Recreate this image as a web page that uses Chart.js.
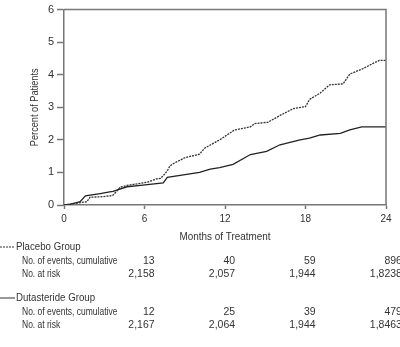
<!DOCTYPE html>
<html lang="en">
<head>
<meta charset="UTF-8">
<title>Percent of Patients by Months of Treatment</title>
<script src="https://cdn.jsdelivr.net/npm/chart.js"></script>
<style>
  body { margin: 0; background: #fff; }
  #wrap { width: 400px; height: 347px; }
</style>
</head>
<body>
<div id="wrap"><canvas id="chart" width="400" height="347"></canvas></div>
<script>
// curve values (months, percent)
const placeboMonths = [0, 1.0, 1.7, 1.95, 2.7, 3.4, 3.65, 4.2, 4.7, 6.2, 6.9, 7.2, 7.4, 7.7, 7.9, 8.1, 9.0, 10.1, 10.5, 11.6, 12.7, 13.9, 14.2, 15.2, 16.1, 17.1, 18.0, 18.3, 19.1, 19.8, 20.8, 21.3, 22.3, 23.0, 23.5, 24];
const placeboPct    = [0, 0.06, 0.1, 0.24, 0.25, 0.28, 0.3, 0.55, 0.6, 0.7, 0.8, 0.82, 0.9, 1.05, 1.2, 1.26, 1.45, 1.56, 1.75, 2.0, 2.3, 2.4, 2.5, 2.54, 2.75, 2.96, 3.02, 3.24, 3.44, 3.69, 3.72, 4.02, 4.19, 4.34, 4.44, 4.44];

const dutaMonths = [0, 0.5, 1.2, 1.6, 2.7, 3.4, 3.65, 4.7, 5.7, 7.4, 7.7, 10.1, 10.9, 11.6, 12.6, 13.9, 15.1, 16.1, 17.6, 18.3, 19.1, 20.6, 21.3, 22.2, 24];
const dutaPct    = [0, 0.03, 0.1, 0.28, 0.35, 0.4, 0.42, 0.56, 0.6, 0.68, 0.85, 1.0, 1.1, 1.15, 1.25, 1.55, 1.65, 1.85, 2.0, 2.05, 2.15, 2.2, 2.31, 2.4, 2.4];

// table under the chart (last column has a footnote mark after the number)
const tableMonths = [6, 12, 18, 24];
const placeboEvents = ["13", "40", "59", "89"];
const placeboAtRisk = ["2,158", "2,057", "1,944", "1,823"];
const dutaEvents = ["12", "25", "39", "47"];
const dutaAtRisk = ["2,167", "2,064", "1,944", "1,846"];
const placeboNotes = ["6", "8"];
const dutaNotes = ["9", "3"];

const fontFam = "'Liberation Sans', Arial, sans-serif";
const txt = "#333";

// text squeezed horizontally, like the condensed face of the original
function squeezed(ctx, s, x, y, align, sx) {
  const w = ctx.measureText(s).width * sx;
  let left = x;
  if (align === "right") left = x - w;
  if (align === "center") left = x - w / 2;
  ctx.save();
  ctx.textAlign = "left";
  ctx.translate(left, y);
  ctx.scale(sx, 1);
  ctx.fillText(s, 0, 0);
  ctx.restore();
}

// extra drawing: box, titles, risk table
const extras = {
  id: "extras",
  afterDraw(chart) {
    const ctx = chart.ctx;
    const a = chart.chartArea;
    const xs = chart.scales.x;
    ctx.save();
    // top and right frame
    ctx.strokeStyle = "#777";
    ctx.lineWidth = 1.5;
    ctx.beginPath();
    ctx.moveTo(a.left, a.top);
    ctx.lineTo(a.right, a.top);
    ctx.lineTo(a.right, a.bottom);
    ctx.stroke();

    ctx.fillStyle = txt;
    ctx.textBaseline = "middle";
    // y title
    ctx.font = "10px " + fontFam;
    ctx.save();
    ctx.translate(35, (a.top + a.bottom) / 2);
    ctx.rotate(-Math.PI / 2);
    squeezed(ctx, "Percent of Patients", 0, 0, "center", 0.92);
    ctx.restore();
    // x title
    ctx.font = "11px " + fontFam;
    squeezed(ctx, "Months of Treatment", (a.left + a.right) / 2, 237, "center", 0.9);

    function group(y, name, dashed, events, risk, notes) {
      ctx.strokeStyle = "#333";
      ctx.lineWidth = 1;
      ctx.setLineDash(dashed ? [2, 1] : []);
      ctx.beginPath();
      ctx.moveTo(0, y);
      ctx.lineTo(15, y);
      ctx.stroke();
      ctx.setLineDash([]);
      ctx.font = "11px " + fontFam;
      squeezed(ctx, name, 16, y, "left", 0.88);
      ctx.font = "10px " + fontFam;
      squeezed(ctx, "No. of events, cumulative", 22, y + 14, "left", 0.85);
      squeezed(ctx, "No. at risk", 22, y + 27, "left", 0.85);
      ctx.font = "11px " + fontFam;
      tableMonths.forEach((m, i) => {
        const px = xs.getPixelForValue(m) + 10;
        squeezed(ctx, events[i], px, y + 14, "right", 0.95);
        squeezed(ctx, risk[i], px, y + 27, "right", 0.95);
        if (i === tableMonths.length - 1) {
          squeezed(ctx, notes[0], px, y + 14, "left", 0.95);
          squeezed(ctx, notes[1], px, y + 27, "left", 0.95);
        }
      });
    }
    group(247, "Placebo Group", true, placeboEvents, placeboAtRisk, placeboNotes);
    group(298, "Dutasteride Group", false, dutaEvents, dutaAtRisk, dutaNotes);
    ctx.restore();
  }
};

new Chart(document.getElementById("chart"), {
  type: "line",
  data: {
    datasets: [
      {
        label: "Placebo Group",
        data: placeboMonths.map((m, i) => ({ x: m, y: placeboPct[i] })),
        borderColor: "#333",
        borderWidth: 1.3,
        borderDash: [2, 1],
        pointRadius: 0,
        fill: false
      },
      {
        label: "Dutasteride Group",
        data: dutaMonths.map((m, i) => ({ x: m, y: dutaPct[i] })),
        borderColor: "#222",
        borderWidth: 1.3,
        pointRadius: 0,
        fill: false
      }
    ]
  },
  options: {
    responsive: false,
    animation: false,
    layout: { padding: { top: 4, right: 14, left: 0, bottom: 0 } },
    plugins: { legend: { display: false }, tooltip: { enabled: false } },
    scales: {
      x: {
        type: "linear",
        min: 0,
        max: 24,
        afterFit: s => { s.height = 142; },
        ticks: { stepSize: 6, color: txt, font: { family: fontFam, size: 10 }, padding: 4, maxRotation: 0 },
        grid: { drawOnChartArea: false, tickLength: 4, tickColor: "#777", tickWidth: 1.5 },
        border: { color: "#777", width: 1.5 }
      },
      y: {
        min: 0,
        max: 6,
        afterFit: s => { s.width = 64; },
        ticks: { stepSize: 1, color: txt, font: { family: fontFam, size: 11 }, padding: 3 },
        grid: { drawOnChartArea: false, tickLength: 7, tickColor: "#777", tickWidth: 1.5 },
        border: { color: "#777", width: 1.5 }
      }
    }
  },
  plugins: [extras]
});
</script>
</body>
</html>
